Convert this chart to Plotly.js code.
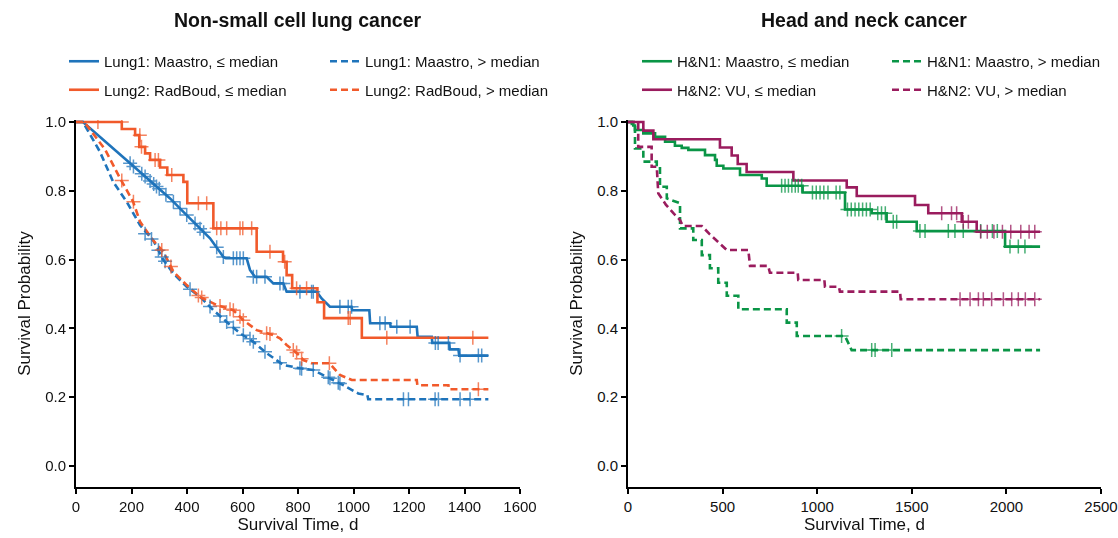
<!DOCTYPE html>
<html>
<head>
<meta charset="utf-8">
<script src="https://cdn.plot.ly/plotly-3.0.1.min.js"></script>
<style>html,body{margin:0;padding:0;background:#fff;}#chart{width:1118px;height:538px;}</style>
</head>
<body>
<div id="chart"></div>
<script>
// ---------- Data: Non-small cell lung cancer ----------
var lung1LowT  = [0,25,195,243,291,339,387,435,483,531,540,615,627,645,687,711,747,759,867,885,915,993,995,1057,1060,1132,1134,1228,1231,1282,1284,1345,1347,1378,1381,1486];
var lung1LowS  = [1,1,0.88,0.846,0.812,0.778,0.739,0.70,0.662,0.608,0.604,0.604,0.570,0.55,0.55,0.531,0.531,0.507,0.507,0.487,0.463,0.463,0.453,0.453,0.415,0.415,0.405,0.405,0.376,0.376,0.358,0.358,0.339,0.339,0.321,0.321];
var lung1HighT = [0,25,86,134,183,231,279,315,351,399,447,495,543,591,639,687,747,807,855,915,963,1017,1050,1053,1486];
var lung1HighS = [1,1,0.914,0.826,0.768,0.70,0.655,0.599,0.560,0.521,0.492,0.453,0.419,0.386,0.361,0.328,0.294,0.284,0.279,0.255,0.235,0.211,0.206,0.194,0.194];
var lung2LowT  = [0,165,165,213,213,228,228,249,249,267,267,303,303,329,329,387,387,401,401,495,495,651,651,746,746,759,759,779,779,870,870,894,894,1030,1030,1486];
var lung2LowS  = [1,1,0.98,0.98,0.962,0.962,0.928,0.928,0.909,0.909,0.89,0.89,0.868,0.868,0.846,0.846,0.826,0.826,0.764,0.764,0.691,0.691,0.623,0.623,0.594,0.594,0.555,0.555,0.517,0.517,0.476,0.476,0.43,0.43,0.373,0.373];
var lung2HighT = [0,30,105,159,205,231,279,315,351,399,447,507,567,603,651,711,735,759,783,807,819,849,913,951,994,1228,1230,1342,1344,1486];
var lung2HighS = [1,1,0.92,0.836,0.77,0.71,0.655,0.623,0.565,0.526,0.492,0.468,0.453,0.424,0.395,0.381,0.371,0.352,0.337,0.32,0.308,0.299,0.299,0.265,0.25,0.25,0.235,0.235,0.223,0.223];

// censored observations (+ marks)
var lung1LowCT  = [195,207,237,249,267,280,290,300,324,351,375,399,429,447,460,507,531,567,579,591,603,639,651,681,735,747,807,849,855,951,981,993,1095,1114,1156,1204,1295,1305,1342,1384,1450,1462];
var lung1LowCS  = [0.88,0.871,0.85,0.842,0.829,0.82,0.813,0.806,0.789,0.768,0.749,0.73,0.705,0.69,0.68,0.636,0.608,0.604,0.604,0.604,0.604,0.55,0.55,0.55,0.531,0.531,0.507,0.507,0.507,0.463,0.463,0.463,0.415,0.415,0.405,0.405,0.358,0.358,0.358,0.321,0.321,0.321];
var lung1HighCT = [249,272,297,309,321,411,483,519,543,567,603,627,639,681,735,807,813,855,909,915,945,951,1180,1198,1294,1306,1384,1420];
var lung1HighCS = [0.675,0.66,0.627,0.608,0.595,0.514,0.464,0.436,0.419,0.403,0.38,0.37,0.361,0.332,0.30,0.284,0.283,0.279,0.258,0.255,0.242,0.24,0.194,0.194,0.194,0.194,0.194,0.194];
var lung2LowCT  = [79,165,230,236,285,297,345,441,471,507,522,543,591,601,633,699,752,795,831,981,988,1120,1430];
var lung2LowCS  = [1,1,0.962,0.928,0.89,0.89,0.846,0.764,0.764,0.691,0.691,0.691,0.691,0.691,0.691,0.623,0.594,0.517,0.517,0.43,0.43,0.373,0.373];
var lung2HighCT = [165,207,309,342,441,453,519,555,567,591,603,687,699,783,795,813,913,1450];
var lung2HighCS = [0.83,0.768,0.628,0.58,0.496,0.49,0.465,0.456,0.453,0.434,0.424,0.386,0.384,0.337,0.33,0.312,0.299,0.223];

// ---------- Data: Head and neck cancer ----------
var hn1LowT  = [0,28,28,37,37,81,81,143,143,196,196,248,248,284,284,319,319,407,407,460,460,469,469,504,504,592,592,707,707,733,733,923,923,1147,1147,1288,1288,1367,1367,1526,1526,1993,1993,2178];
var hn1LowS  = [1,1,0.99,0.99,0.977,0.977,0.967,0.967,0.957,0.957,0.943,0.943,0.931,0.931,0.925,0.925,0.919,0.919,0.904,0.904,0.89,0.89,0.873,0.873,0.865,0.865,0.846,0.846,0.836,0.836,0.815,0.815,0.795,0.795,0.746,0.746,0.735,0.735,0.71,0.71,0.683,0.683,0.638,0.638];
var hn1HighT = [0,20,20,37,37,81,81,152,152,169,169,205,205,250,275,275,345,345,390,390,433,433,477,477,522,522,583,583,839,839,892,892,1147,1182,2178];
var hn1HighS = [1,1,0.99,0.99,0.923,0.923,0.885,0.885,0.875,0.875,0.812,0.812,0.778,0.77,0.764,0.691,0.691,0.657,0.657,0.613,0.613,0.575,0.575,0.533,0.533,0.495,0.495,0.456,0.456,0.417,0.417,0.378,0.378,0.337,0.337];
var hn2LowT  = [0,81,81,134,134,486,486,548,548,580,580,627,627,874,874,1156,1156,1209,1209,1517,1517,1587,1587,1764,1764,1843,1843,2178];
var hn2LowS  = [1,1,0.975,0.975,0.95,0.95,0.926,0.926,0.903,0.903,0.878,0.878,0.855,0.855,0.83,0.83,0.81,0.81,0.785,0.785,0.759,0.759,0.735,0.735,0.71,0.71,0.681,0.681];
var hn2HighT = [0,54,54,125,125,152,160,200,240,275,290,390,430,480,522,636,645,741,750,897,900,1038,1041,1115,1120,1438,1441,2178];
var hn2HighS = [1,1,0.928,0.928,0.87,0.87,0.793,0.76,0.735,0.715,0.698,0.698,0.675,0.65,0.628,0.628,0.582,0.582,0.562,0.562,0.541,0.541,0.521,0.521,0.507,0.507,0.485,0.485];

var hn1LowCT  = [812,830,848,866,884,900,918,975,995,1015,1035,1057,1100,1120,1160,1180,1200,1220,1240,1260,1280,1320,1340,1360,1402,1420,1543,1570,1693,1728,1772,1864,1926,1952,2019,2063,2098];
var hn1LowCS  = [0.815,0.815,0.815,0.815,0.815,0.815,0.815,0.795,0.795,0.795,0.795,0.795,0.795,0.795,0.746,0.746,0.746,0.746,0.746,0.746,0.746,0.735,0.735,0.735,0.71,0.71,0.683,0.683,0.683,0.683,0.683,0.683,0.683,0.683,0.638,0.638,0.638];
var hn1HighCT = [1129,1288,1306,1394];
var hn1HighCS = [0.378,0.337,0.337,0.337];
var hn2LowCT  = [1658,1710,1737,1772,1799,1864,1899,1934,1979,2023,2076,2120,2150];
var hn2LowCS  = [0.735,0.735,0.735,0.71,0.71,0.681,0.681,0.681,0.681,0.681,0.681,0.681,0.681];
var hn2HighCT = [1755,1808,1852,1878,1922,1984,2028,2063,2100,2150];
var hn2HighCS = [0.485,0.485,0.485,0.485,0.485,0.485,0.485,0.485,0.485,0.485];

var legendNames = [
  'Lung1: Maastro, \u2264 median', 'Lung1: Maastro, > median',
  'Lung2: RadBoud, \u2264 median', 'Lung2: RadBoud, > median',
  'H&N1: Maastro, \u2264 median', 'H&N1: Maastro, > median',
  'H&N2: VU, \u2264 median', 'H&N2: VU, > median'
];

var BLUE = '#1f74bb', ORANGE = '#f15a2b', GREEN = '#0a9546', PURPLE = '#9a1c5e';
var FONT = 'Liberation Sans, Arial, sans-serif';
var DASH = '7px,4px';

function curve(t, s, name, color, dashed, xa, ya, leg, grp) {
  return {x: t, y: s, name: name, type: 'scatter', mode: 'lines', xaxis: xa, yaxis: ya,
    legend: leg, legendgroup: grp,
    line: {color: color, width: 2.6, dash: dashed ? DASH : 'solid'}, hoverinfo: 'skip'};
}
function marks(t, s, color, xa, ya) {
  return {x: t, y: s, type: 'scatter', mode: 'markers', xaxis: xa, yaxis: ya, showlegend: false,
    marker: {symbol: 'cross-thin', size: 10, color: color, line: {color: color, width: 1.5}},
    opacity: 0.75, hoverinfo: 'skip'};
}

var data = [
  curve(lung1LowT, lung1LowS, legendNames[0], BLUE, false, 'x', 'y', 'legend', 'a'),
  curve(lung2LowT, lung2LowS, legendNames[2], ORANGE, false, 'x', 'y', 'legend', 'b'),
  curve(lung1HighT, lung1HighS, legendNames[1], BLUE, true, 'x', 'y', 'legend2', 'c'),
  curve(lung2HighT, lung2HighS, legendNames[3], ORANGE, true, 'x', 'y', 'legend2', 'd'),
  marks(lung1LowCT, lung1LowCS, BLUE, 'x', 'y'),
  marks(lung1HighCT, lung1HighCS, BLUE, 'x', 'y'),
  marks(lung2LowCT, lung2LowCS, ORANGE, 'x', 'y'),
  marks(lung2HighCT, lung2HighCS, ORANGE, 'x', 'y'),
  curve(hn1LowT, hn1LowS, legendNames[4], GREEN, false, 'x2', 'y2', 'legend3', 'e'),
  curve(hn2LowT, hn2LowS, legendNames[6], PURPLE, false, 'x2', 'y2', 'legend3', 'f'),
  curve(hn1HighT, hn1HighS, legendNames[5], GREEN, true, 'x2', 'y2', 'legend4', 'g'),
  curve(hn2HighT, hn2HighS, legendNames[7], PURPLE, true, 'x2', 'y2', 'legend4', 'h'),
  marks(hn1LowCT, hn1LowCS, GREEN, 'x2', 'y2'),
  marks(hn1HighCT, hn1HighCS, GREEN, 'x2', 'y2'),
  marks(hn2LowCT, hn2LowCS, PURPLE, 'x2', 'y2'),
  marks(hn2HighCT, hn2HighCS, PURPLE, 'x2', 'y2')
];

var W = 1118, H = 538;
function px(x) { return x / W; }
function py(y) { return (H - y) / H; }

function xax(range, dtick, left, right) {
  return {range: range, domain: [px(left), px(right)], dtick: dtick, tick0: 0,
    showgrid: false, zeroline: false, showline: true, linecolor: '#000', linewidth: 2,
    ticks: 'outside', ticklen: 5, tickwidth: 2, tickcolor: '#000',
    tickfont: {family: FONT, size: 15, color: '#111'},
    title: {text: 'Survival Time, d', font: {family: FONT, size: 17, color: '#111'}, standoff: 4}};
}
function yax(anchor) {
  return {range: [-0.061, 1.006], domain: [py(487), py(120)], dtick: 0.2, tick0: 0, tickformat: '.1f',
    anchor: anchor, showgrid: false, zeroline: false, showline: true, linecolor: '#000', linewidth: 2,
    ticks: 'outside', ticklen: 5, tickwidth: 2, tickcolor: '#000',
    tickfont: {family: FONT, size: 15, color: '#111'},
    title: {text: 'Survival Probability', font: {family: FONT, size: 17, color: '#111'}, standoff: 10}};
}
function leg(xText, yTop) {
  return {x: px(xText - 40), y: py(yTop), xanchor: 'left', yanchor: 'top', orientation: 'v',
    bgcolor: 'rgba(0,0,0,0)', borderwidth: 0, tracegroupgap: 6, traceorder: 'grouped',
    font: {family: FONT, size: 15, color: '#111'}};
}

var layout = {
  width: W, height: H, margin: {l: 0, r: 0, t: 0, b: 0},
  paper_bgcolor: '#fff', plot_bgcolor: '#fff', showlegend: true,
  font: {family: FONT, color: '#111'},
  xaxis: Object.assign(xax([0, 1600], 200, 76, 520), {anchor: 'y'}),
  yaxis: yax('x'),
  xaxis2: Object.assign(xax([0, 2500], 500, 628, 1101), {anchor: 'y2'}),
  yaxis2: yax('x2'),
  legend: leg(104, 45),
  legend2: leg(365, 45),
  legend3: leg(677, 45),
  legend4: leg(927, 45),
  annotations: [
    {text: '<b>Non-small cell lung cancer</b>', x: px(297), y: py(20), xref: 'paper', yref: 'paper',
     showarrow: false, xanchor: 'center', yanchor: 'middle', font: {family: FONT, size: 19.5, color: '#111'}},
    {text: '<b>Head and neck cancer</b>', x: px(864), y: py(20), xref: 'paper', yref: 'paper',
     showarrow: false, xanchor: 'center', yanchor: 'middle', font: {family: FONT, size: 19.5, color: '#111'}}
  ]
};

Plotly.newPlot('chart', data, layout, {displayModeBar: false, staticPlot: true});
</script>
</body>
</html>
